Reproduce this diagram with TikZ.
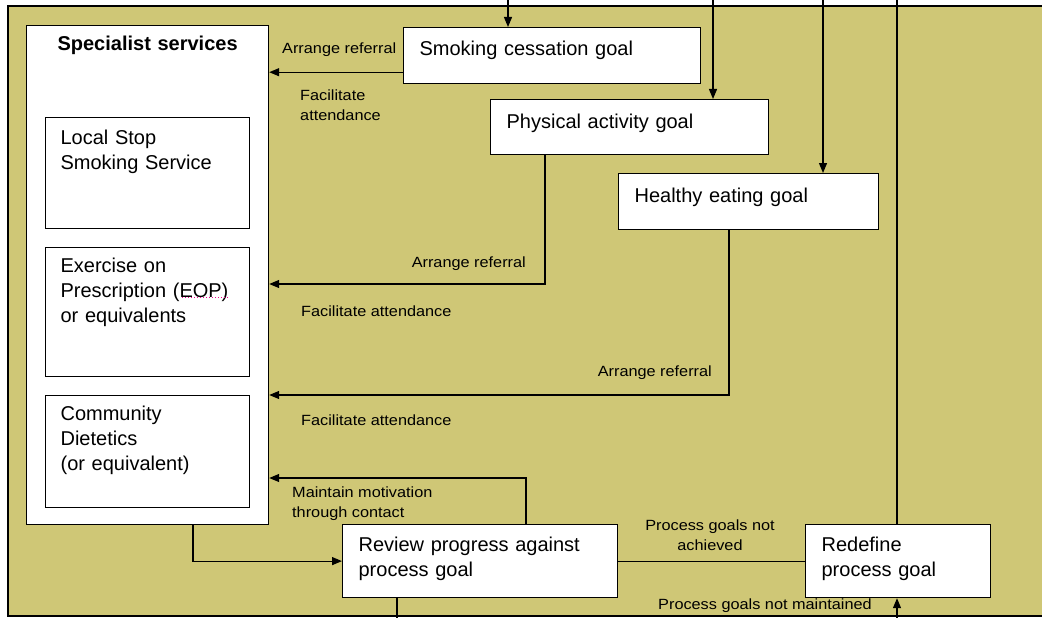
\documentclass[tikz,border=0pt]{standalone}
\usepackage{fontspec}
\setmainfont{Liberation Sans}
\newfontfamily\lblfam[FakeStretch=1.1]{Liberation Sans}
\usetikzlibrary{arrows.meta}
\definecolor{khaki}{RGB}{207,199,118}
\newcommand{\boxfont}{\fontsize{20}{25}\selectfont}
\newcommand{\lblfont}{\lblfam\fontsize{14.8}{20}\selectfont}
\tikzset{
  box/.style={draw, fill=white, line width=1.2pt, anchor=north west, align=left,
    inner xsep=16pt, inner ysep=0pt, font=\boxfont},
  lbl/.style={font=\lblfont, inner sep=0pt},
  arr/.style={-{Triangle[length=10pt,width=8pt]}, line width=1.2pt},
  link/.style={line width=1.2pt}
}
\begin{document}
\begin{tikzpicture}[x=1pt,y=-1pt]
	\useasboundingbox (0,0) rectangle (1042,618);
	\clip (0,0) rectangle (1042,618);
	\draw[link, fill=khaki] (8,6) rectangle (1060,616);
	% specialist services and its parts
	\node[box, text width=242pt, inner xsep=0pt, align=center, text height=25pt, text depth=474pt,
		font=\boxfont\bfseries] (spec) at (26,25) {Specialist services};
	\node[box, text width=174pt, inner xsep=15pt, text height=27pt, text depth=84pt] (lss) at (45,117) {Local Stop\\Smoking Service};
	\node[box, text width=174pt, inner xsep=15pt, text height=25pt, text depth=104pt] (eop) at (45,247) {Exercise on\\Prescription (EOP)\\or equivalents};
	\draw[magenta, dotted, line width=1pt] (182,297) -- (228,297);
	\node[box, text width=174pt, inner xsep=15pt, text height=25pt, text depth=87pt] (com) at (45,395) {Community\\Dietetics\\(or equivalent)};
	% goals
	\node[box, text width=265pt, text height=28pt, text depth=28pt] (smk) at (403,27) {Smoking cessation goal};
	\node[box, text width=246pt, text height=29pt, text depth=26pt] (phy) at (490,99) {Physical activity goal};
	\node[box, text width=228pt, text height=29pt, text depth=27pt] (hlt) at (618,173) {Healthy eating goal};
	\node[box, text width=243pt, text height=27pt, text depth=46pt] (rev) at (342,524) {Review progress against\\process goal};
	\node[box, text width=153pt, text height=27pt, text depth=46pt] (red) at (805,524) {Redefine\\process goal};
	% inputs from above and below
	\coordinate (top1) at (508,0);
	\coordinate (top2) at (713,0);
	\coordinate (top3) at (823,0);
	\coordinate (top4) at (897,0);
	\coordinate (bot1) at (397,618);
	\coordinate (bot2) at (897,618);
	\draw[arr] (top1) -- (top1 |- smk.north);
	\draw[arr] (top2) -- (top2 |- phy.north);
	\draw[arr] (top3) -- (top3 |- hlt.north);
	\draw[link] (top4) -- (top4 |- red.north);
	\draw[link] (rev.south -| bot1) -- (bot1);
	\draw[arr] (bot2) -- (bot2 |- red.south);
	% referrals
	\coordinate (s1) at ([yshift=12pt]smk.south west);
	\coordinate (p1) at ([xshift=55pt]phy.south west);
	\coordinate (h1) at ([xshift=111pt]hlt.south west);
	\coordinate (r1) at ([xshift=184pt]rev.north west);
	\coordinate (sp1) at ([xshift=167pt]spec.south west);
	\draw[arr] (s1) -- (s1 -| spec.east);
	\draw[arr] (p1) |- (spec.east |- 0,284);
	\draw[arr] (h1) |- (spec.east |- 0,395);
	\draw[arr] (r1) |- (spec.east |- 0,478);
	\draw[arr] (sp1) |- (rev.west);
	\draw[link] (rev.east) -- (red.west);
	% labels
	\node[lbl, anchor=west] (ar1) at (282,50) {Arrange referral};
	\node[lbl, anchor=west, align=left] (fa1) at (300,105) {Facilitate\\attendance};
	\node[lbl, anchor=east] (ar2) at (526,264) {Arrange referral};
	\node[lbl, anchor=west] (fa2) at (301,311) {Facilitate attendance};
	\node[lbl, anchor=east] (ar3) at (712,373) {Arrange referral};
	\node[lbl, anchor=west] (fa3) at (301,420) {Facilitate attendance};
	\node[lbl, anchor=west, align=left] (mm) at (292,504) {Maintain motivation\\through contact};
	\node[lbl, align=center] (pna) at (710,535) {Process goals not\\achieved};
	\node[lbl] (pnm) at (765,606) {Process goals not maintained};
\end{tikzpicture}
\end{document}
